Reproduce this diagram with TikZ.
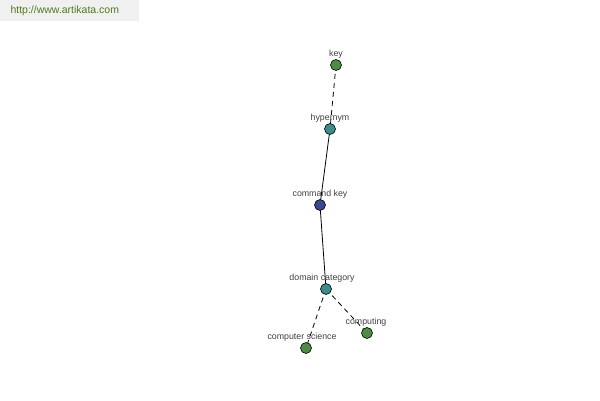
\documentclass[tikz,border=0pt]{standalone}
\usepackage{fontspec}
\setmainfont{Liberation Sans}
\definecolor{leafgreen}{RGB}{78,140,70}
\definecolor{midteal}{RGB}{60,140,140}
\definecolor{rootblue}{RGB}{60,72,140}
\definecolor{markgreen}{RGB}{80,120,40}
\definecolor{markgray}{RGB}{240,240,240}
\begin{document}
\begin{tikzpicture}[x=1pt,y=-1pt,
	word/.style={circle,draw=black,line width=0.6pt,inner sep=0pt,minimum size=11pt},
	lbl/.style={font=\fontsize{8.8}{10}\selectfont,text=black!75,inner sep=0pt},
	link/.style={line width=0.8pt},
	dlink/.style={line width=0.8pt,dash pattern=on 5pt off 4pt}]
		\useasboundingbox[fill=white] (0,0) rectangle (600,400); %Frame
		\fill[markgray] (0,0) rectangle (139,21);
		\node[text=markgreen,font=\fontsize{10.5}{12}\selectfont,anchor=west] (site) at (7,11) {http://www.artikata.com};
		% points
		\coordinate (key) at (336,65);
		\coordinate (hyp) at (330,129);
		\coordinate (cmd) at (320,205);
		\coordinate (dom) at (326,289);
		\coordinate (comp) at (367,333);
		\coordinate (cs) at (306,348);
		% links
		\draw[dlink] (key)--(hyp);
		\draw[link] (hyp)--(cmd);
		\draw[link] (cmd)--(dom);
		\draw[dlink] (dom)--(cs);
		\draw[dlink] (dom)--(comp);
		% labels
		\node[lbl] (keyl) at (336,54) {key};
		\node[lbl] (hypl) at (330,118) {hypernym};
		\node[lbl] (cmdl) at (320,194) {command key};
		\node[lbl] (doml) at (322,278) {domain category};
		\node[lbl] (compl) at (366,322) {computing};
		\node[lbl] (csl) at (302,337) {computer science};
		% dots
		\node[word,fill=leafgreen] (keyd) at (key) {};
		\node[word,fill=midteal] (hypd) at (hyp) {};
		\node[word,fill=rootblue] (cmdd) at (cmd) {};
		\node[word,fill=midteal] (domd) at (dom) {};
		\node[word,fill=leafgreen] (compd) at (comp) {};
		\node[word,fill=leafgreen] (csd) at (cs) {};
	\end{tikzpicture}
\end{document}
